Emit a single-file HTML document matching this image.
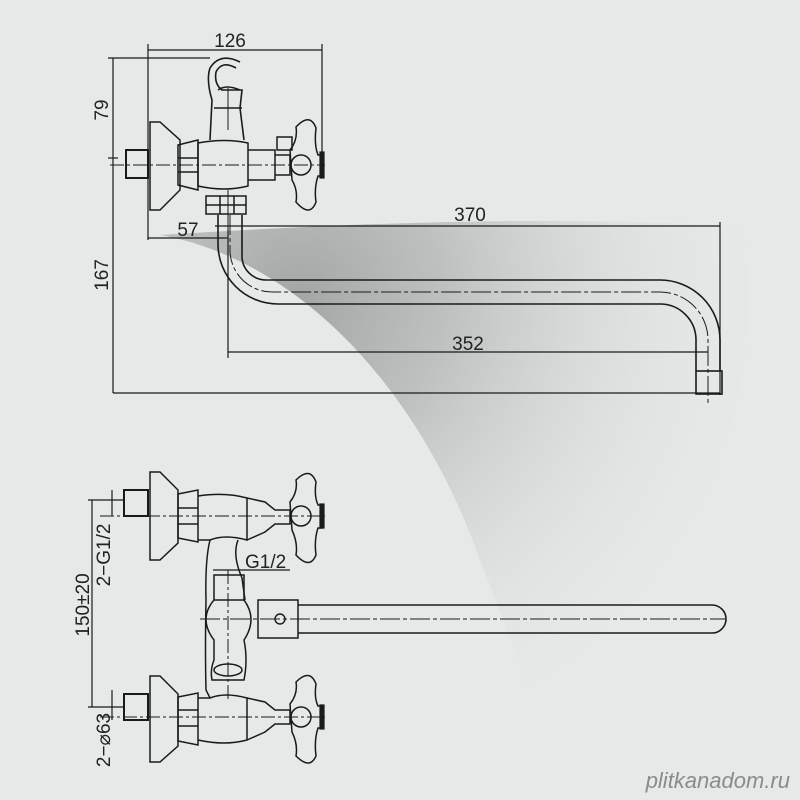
<!DOCTYPE html>
<html><head><style>
html,body{margin:0;padding:0;width:800px;height:800px;overflow:hidden;background:#e7e9e9}
svg text{font-family:"Liberation Sans",sans-serif;fill:#222}
</style></head><body>
<svg width="800" height="800" viewBox="0 0 800 800" xmlns="http://www.w3.org/2000/svg">
<defs>
<radialGradient id="sh" gradientUnits="userSpaceOnUse" cx="300" cy="300" r="480">
<stop offset="0" stop-color="#a4a6a6" stop-opacity="1"/>
<stop offset="0.3" stop-color="#b4b6b6" stop-opacity="0.8"/>
<stop offset="0.7" stop-color="#d4d6d6" stop-opacity="0.4"/>
<stop offset="1" stop-color="#e7e9e9" stop-opacity="0"/>
</radialGradient>
</defs>
<rect width="800" height="800" fill="#e7e9e9"/>
<path d="M160,235 C300,260 420,390 480,560 C520,660 545,740 560,800 L800,800 L800,230 C600,215 400,220 160,235 Z" fill="url(#sh)"/>
<g fill="none" stroke="#1a1a1a" stroke-width="1.2">
<line x1="148" y1="50" x2="322" y2="50"/>
<line x1="148" y1="44" x2="148" y2="240"/>
<line x1="322" y1="44" x2="322" y2="165"/>
<line x1="108" y1="58" x2="210" y2="58"/>
<line x1="113" y1="58" x2="113" y2="393"/>
<line x1="108" y1="158" x2="118" y2="158"/>
<line x1="113" y1="393" x2="720" y2="393"/>
<line x1="215" y1="226" x2="720" y2="226"/>
<line x1="720" y1="222" x2="720" y2="395"/>
<line x1="148" y1="238" x2="228" y2="238"/>
<line x1="228" y1="230" x2="228" y2="358"/>
<line x1="228" y1="352" x2="708" y2="352"/>
<line x1="110" y1="165" x2="325" y2="165" stroke-dasharray="14,3,3,3" stroke-width="1"/>
<line x1="228" y1="88" x2="228" y2="130" stroke-width="1"/>
<line x1="228" y1="190" x2="228" y2="230" stroke-width="1"/>
<rect x="126" y="150" width="22" height="28" stroke-width="2"/>
<path d="M150,122 L160,122 L180,140 L180,190 L160,210 L150,210 Z" stroke-width="1.5"/>
<path d="M178,145 L198,140 L198,190 L178,185 Z M178,158 H198 M178,172 H198" stroke-width="1.5"/>
<path d="M198,143 Q225,138 248,143 L248,186 Q225,192 198,186 Z" stroke-width="1.5"/>
<path d="M248,150 H275 V180 H248 M275,155 H290 V175 H275" stroke-width="1.5"/>
<path d="M277,137 H292 V150 H277 Z" stroke-width="1.5"/>
<path d="M210,140 L212,100 Q206,80 210,68 Q220,52 240,62 M236,68 Q222,60 216,72 Q214,84 222,90 L242,90 L240,108 L244,140 M214,108 H242 M218,90 Q226,84 240,90" stroke-width="1.6"/>
<path d="M296,127 Q310,112 316,128 Q314,145 318,155 L322,155 L322,176 L318,176 Q314,188 316,202 Q310,218 296,202 Q298,190 292,180 L290,150 Q298,140 296,127 Z" stroke-width="1.5"/>
<circle cx="301" cy="165" r="10" stroke-width="1.5"/>
<rect x="320" y="152" width="4" height="26" fill="#1a1a1a"/>
<path d="M206,196 H246 V214 H206 Z M206,205 H246 M220,196 V214 M234,196 V214" stroke-width="1.5"/>
<path d="M218,215 V244 A60,60 0 0 0 278,304 H660 A36,36 0 0 1 696,340 V371" stroke-width="1.6"/>
<path d="M242,215 V256 A24,24 0 0 0 266,280 H660 A60,60 0 0 1 720,340 V371" stroke-width="1.6"/>
<path d="M230,215 V250 A42,42 0 0 0 272,292 H660 A48,48 0 0 1 708,340 V405" stroke-width="1" stroke-dasharray="20,3,4,3"/>
<rect x="696" y="371" width="26" height="23" stroke-width="1.6"/>
<line x1="88" y1="500" x2="125" y2="500"/>
<line x1="92" y1="500" x2="92" y2="707"/>
<line x1="88" y1="707" x2="125" y2="707"/>
<line x1="112" y1="490" x2="112" y2="516"/>
<line x1="112" y1="690" x2="112" y2="720"/>
<line x1="213" y1="570" x2="290" y2="570"/>
<line x1="100" y1="516" x2="325" y2="516" stroke-dasharray="14,3,3,3" stroke-width="1"/>
<line x1="100" y1="717" x2="325" y2="717" stroke-dasharray="14,3,3,3" stroke-width="1"/>
<line x1="200" y1="619" x2="725" y2="619" stroke-dasharray="20,3,4,3" stroke-width="1"/>
<line x1="228" y1="570" x2="228" y2="700" stroke-width="1" stroke-dasharray="14,3,3,3"/>
<rect x="124" y="490" width="24" height="26" stroke-width="2"/>
<path d="M150,472 L160,472 L178,490 L178,543 L160,560 L150,560 Z" stroke-width="1.5"/>
<path d="M178,494 L198,490 L198,542 L178,538 Z M178,508 H198 M178,524 H198" stroke-width="1.5"/>
<path d="M198,496 Q225,492 247,498 L247,540 Q225,534 210,540 L198,540" stroke-width="1.5"/>
<path d="M247,498 L265,502 L275,510 H290 V524 H275 L265,532 L247,540" stroke-width="1.5"/>
<path d="M296,480 Q310,466 316,482 Q314,496 318,505 L322,505 L322,528 L318,528 Q314,540 316,555 Q310,570 296,555 Q298,543 292,530 L290,502 Q298,492 296,480 Z" stroke-width="1.5"/>
<circle cx="301" cy="516" r="10" stroke-width="1.5"/>
<rect x="320" y="504" width="4" height="24" fill="#1a1a1a"/>
<rect x="124" y="694" width="24" height="26" stroke-width="2"/>
<path d="M150,676 L160,676 L178,694 L178,746 L160,762 L150,762 Z" stroke-width="1.5"/>
<path d="M178,697 L198,693 L198,745 L178,741 Z M178,710 H198 M178,726 H198" stroke-width="1.5"/>
<path d="M198,698 L210,698 Q225,692 247,698 L247,740 Q225,746 198,740" stroke-width="1.5"/>
<path d="M247,698 L265,702 L275,710 H290 V724 H275 L265,732 L247,740" stroke-width="1.5"/>
<path d="M296,682 Q310,668 316,684 Q314,698 318,706 L322,706 L322,728 L318,728 Q314,740 316,756 Q310,770 296,756 Q298,744 292,732 L290,704 Q298,694 296,682 Z" stroke-width="1.5"/>
<circle cx="301" cy="717" r="10" stroke-width="1.5"/>
<rect x="320" y="705" width="4" height="24" fill="#1a1a1a"/>
<path d="M210,540 Q205,560 206,600 Q205,650 206,690 L210,698" stroke-width="1.5"/>
<path d="M238,540 Q232,555 242,578 L245,600" stroke-width="1.5"/>
<rect x="214" y="575" width="30" height="25" stroke-width="1.5"/>
<path d="M214,600 Q198,619 214,640 L214,660 Q210,670 212,680 H244 Q248,660 244,640 Q258,619 244,600" stroke-width="1.5"/>
<ellipse cx="228" cy="670" rx="14" ry="6" stroke-width="1.5"/>
<rect x="258" y="600" width="40" height="38" stroke-width="1.5"/>
<circle cx="280" cy="619" r="5" stroke-width="1.4"/>
<path d="M298,605 H712 A14,14 0 0 1 712,633 H298" stroke-width="1.6"/>
</g>
<text x="230" y="47" font-size="19" text-anchor="middle">126</text>
<text x="470" y="221" font-size="19" text-anchor="middle">370</text>
<text x="188" y="236" font-size="19" text-anchor="middle">57</text>
<text x="468" y="350" font-size="19" text-anchor="middle">352</text>
<text transform="translate(108,110) rotate(-90)" font-size="19" text-anchor="middle">79</text>
<text transform="translate(108,275) rotate(-90)" font-size="19" text-anchor="middle">167</text>
<text transform="translate(89,605) rotate(-90)" font-size="19" text-anchor="middle">150±20</text>
<text transform="translate(110,555) rotate(-90)" font-size="19" text-anchor="middle">2−G1/2</text>
<text transform="translate(110,740) rotate(-90)" font-size="19" text-anchor="middle">2−⌀63</text>
<text x="245" y="568" font-size="19">G1/2</text>
<text x="790" y="788" font-size="22" text-anchor="end" style="fill:#8a8c8c;font-style:italic">plitkanadom.ru</text>
</svg>
</body></html>
